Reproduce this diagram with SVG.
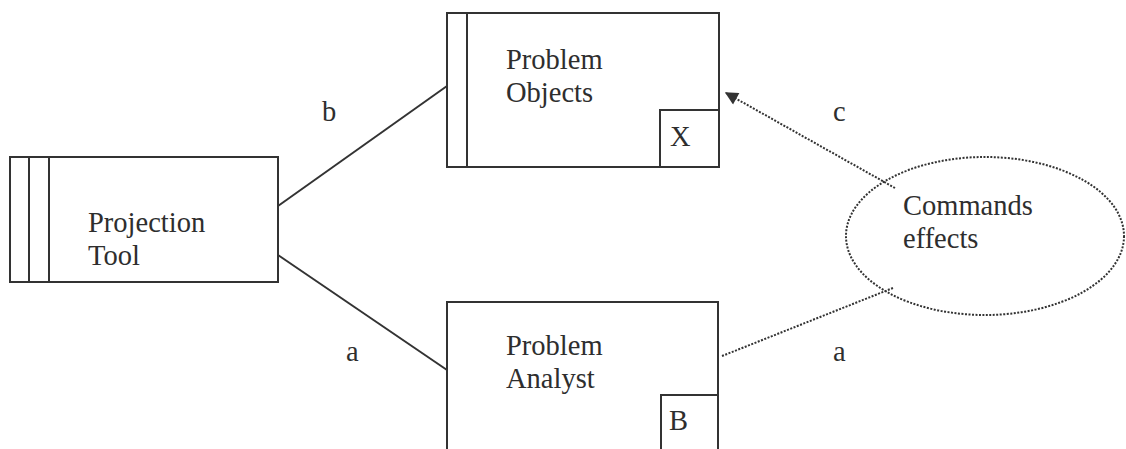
<svg xmlns="http://www.w3.org/2000/svg" width="1126" height="449" viewBox="0 0 1126 449">
  <defs>
    <style>
      .box { fill: #fff; stroke: #333; stroke-width: 2; }
      .bar { stroke: #333; stroke-width: 2; fill: none; }
      .lbl { font-size: 28.5px; fill: #2e2e2e; }
      .solid { stroke: #333; stroke-width: 2; fill: none; }
      .dot { stroke: #333; stroke-width: 2; fill: none; stroke-dasharray: 2 1.5; }
    </style>
    <marker id="arrow" viewBox="0 0 10 10" refX="9" refY="5" markerWidth="17" markerHeight="13" orient="auto" markerUnits="userSpaceOnUse">
      <path d="M0,0 L10,5 L0,10 z" fill="#333"/>
    </marker>
  </defs>
  <rect width="1126" height="449" fill="#fff"/>

  <g font-family="Liberation Serif, Times New Roman, serif">
  <!-- connectors -->
  <g id="connectors">
    <line class="solid" x1="278" y1="206" x2="447" y2="86"/>
    <line class="solid" x1="278" y1="255" x2="447" y2="370"/>
    <line class="dot" x1="895" y1="188" x2="726" y2="93" marker-end="url(#arrow)"/>
    <line class="dot" x1="722" y1="356" x2="893" y2="288"/>
    <text class="lbl" x="322" y="121">b</text>
    <text class="lbl" x="346" y="361">a</text>
    <text class="lbl" x="833" y="121">c</text>
    <text class="lbl" x="833" y="361">a</text>
  </g>

  <!-- Projection Tool -->
  <g id="projection-tool">
    <rect class="box" x="10" y="157" width="268" height="125"/>
    <line class="bar" x1="29" y1="157" x2="29" y2="282"/>
    <line class="bar" x1="49" y1="157" x2="49" y2="282"/>
    <text class="lbl" x="88" y="232">Projection</text>
    <text class="lbl" x="88" y="265">Tool</text>
  </g>

  <!-- Problem Objects -->
  <g id="problem-objects">
    <rect class="box" x="447" y="13" width="272" height="154"/>
    <line class="bar" x1="467" y1="13" x2="467" y2="167"/>
    <rect class="box" x="660" y="110" width="59" height="57"/>
    <text class="lbl" x="506" y="69">Problem</text>
    <text class="lbl" x="506" y="102">Objects</text>
    <text class="lbl" x="670" y="146">X</text>
  </g>

  <!-- Problem Analyst -->
  <g id="problem-analyst">
    <rect class="box" x="447" y="302" width="271" height="160"/>
    <rect class="box" x="661" y="395" width="57" height="67"/>
    <text class="lbl" x="506" y="355">Problem</text>
    <text class="lbl" x="506" y="388">Analyst</text>
    <text class="lbl" x="669" y="430">B</text>
  </g>

  <!-- Commands effects -->
  <g id="commands-effects">
    <ellipse class="dot" cx="985" cy="236" rx="139" ry="79"/>
    <text class="lbl" x="903" y="215">Commands</text>
    <text class="lbl" x="903" y="248">effects</text>
  </g>
  </g>
</svg>
